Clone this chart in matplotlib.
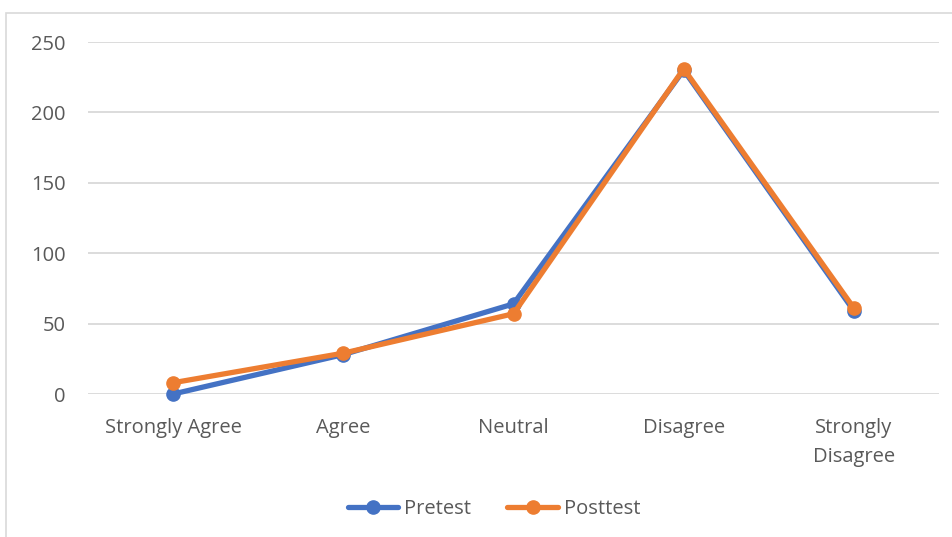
import matplotlib
matplotlib.use("Agg")
import matplotlib.pyplot as plt
from matplotlib.patches import Rectangle

categories = ["Strongly Agree", "Agree", "Neutral", "Disagree", "Strongly\nDisagree"]
pretest = [0, 28, 64, 230, 59]
posttest = [8, 29, 57, 231, 61]
y_ticks = [0, 50, 100, 150, 200, 250]

BLUE = "#4472C4"
ORANGE = "#ED7D31"
GRID = "#D9D9D9"
TEXT = "#595959"

plt.rcParams["font.family"] = ["Open Sans", "DejaVu Sans"]

W, H = 953, 537
fig = plt.figure(figsize=(W / 100, H / 100), dpi=100)
ax = fig.add_axes([88 / W, 1 - 394 / H, (939 - 88) / W, (394 - 42) / H])

# chart frame, runs off the right and bottom edges
fig.patches.append(Rectangle((6 / W, -0.1), 1.2, 1 - 13 / H + 0.1,
                             transform=fig.transFigure, fill=False,
                             edgecolor=GRID, linewidth=1.2))

x = list(range(len(categories)))
ax.plot(x, pretest, color=BLUE, linewidth=3.8, marker="o", markersize=9.5,
        solid_capstyle="round", label="Pretest", zorder=3, clip_on=False)
ax.plot(x, posttest, color=ORANGE, linewidth=3.8, marker="o", markersize=9.5,
        solid_capstyle="round", label="Posttest", zorder=4, clip_on=False)

ax.set_xlim(-0.5, len(categories) - 0.5)
ax.set_ylim(0, 250)
ax.set_yticks(y_ticks)
ax.set_xticks(x)
ax.set_xticklabels(categories, linespacing=1.6)
ax.grid(axis="y", color=GRID, linewidth=1.3)
ax.set_axisbelow(True)
for s in ax.spines.values():
    s.set_visible(False)
ax.tick_params(length=0, labelsize=14.5, labelcolor=TEXT)
ax.tick_params(axis="x", pad=17)
ax.tick_params(axis="y", pad=16)

fig.legend(loc="center", bbox_to_anchor=(494 / W, 1 - 509 / H), ncol=2,
           frameon=False, fontsize=14.5, labelcolor=TEXT, handlelength=2.5,
           columnspacing=1.8, handletextpad=0.3)

fig.savefig("out.png", dpi=100)
